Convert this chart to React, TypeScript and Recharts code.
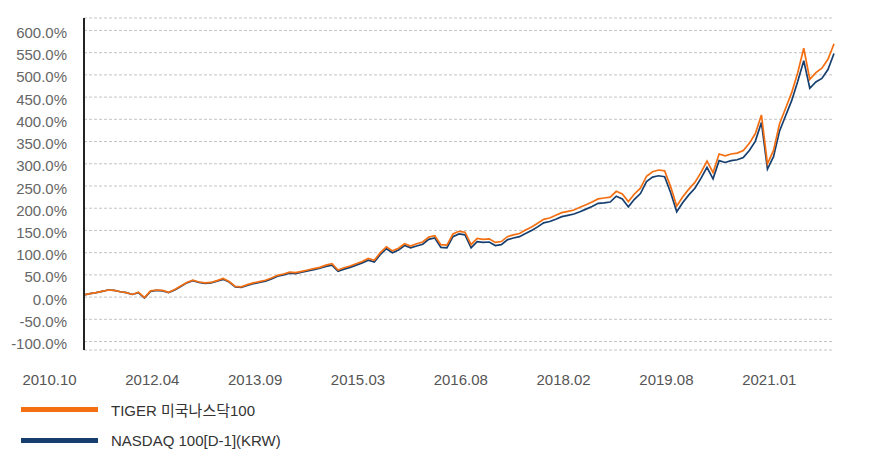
import { LineChart, Line, XAxis, YAxis, CartesianGrid } from 'recharts';

// monthly points, 2010.10 -> 2021.02 (cumulative return, %)
const tiger = [
  5, 8, 10, 13, 16, 15, 12, 10, 6, 11, -1, 14, 16, 15, 11, 17, 25, 33, 38, 34,
  32, 33, 37, 42, 35, 24, 23, 28, 32, 35, 38, 43, 49, 52, 56, 55, 58, 61, 64, 67,
  72, 75, 61, 66, 70, 75, 80, 87, 83, 100, 113, 104, 110, 120, 115, 120, 124, 135, 138, 118,
  117, 142, 148, 146, 118, 132, 130, 131, 123, 125, 136, 140, 143, 151, 158, 166, 175, 178, 184, 190,
  193, 196, 202, 208, 214, 221, 223, 225, 238, 232, 215, 232, 245, 272, 282, 286, 284, 248, 205, 226,
  243, 258, 280, 306, 280, 322, 318, 322, 324, 330, 346, 368, 410, 300, 330, 390, 425, 460, 505, 560,
  490, 505, 515, 535, 570,
];

const nasdaq = [
  5, 8, 10, 13, 16, 15, 12, 10, 6, 10, -2, 13, 15, 14, 10, 16, 24, 32, 37, 33,
  31, 32, 36, 40, 34, 23, 22, 26, 30, 33, 36, 41, 47, 50, 54, 53, 56, 59, 62, 65,
  69, 72, 58, 63, 67, 72, 77, 83, 79, 96, 109, 100, 106, 116, 111, 115, 119, 130, 133, 112,
  111, 136, 142, 140, 111, 125, 123, 124, 116, 118, 129, 133, 136, 143, 150, 158, 167, 170, 175, 181,
  184, 187, 192, 198, 204, 211, 212, 214, 227, 221, 203, 220, 233, 260, 270, 273, 271, 235, 192, 213,
  230, 245, 267, 292, 266, 307, 303, 307, 309, 314, 330, 351, 393, 288, 316, 374, 408, 442, 485, 532,
  470, 484, 492, 512, 548,
];

const xLabels = ['2010.10', '2012.04', '2013.09', '2015.03', '2016.08', '2018.02', '2019.08', '2021.01'];
const xTicks = [0, 17, 34, 51, 68, 85, 102, 119];
const yTicks = [-100, -50, 0, 50, 100, 150, 200, 250, 300, 350, 400, 450, 500, 550, 600];

const seriesNames = ['TIGER 미국나스닥100', 'NASDAQ 100[D-1](KRW)'];
const seriesColors = ['#f36f12', '#163f70'];

const data = tiger.map((v, i) => ({ i, tiger: v, nasdaq: nasdaq[i] }));

const font = "'Liberation Sans', Arial, 'Noto Sans CJK KR', sans-serif";

const XTick = (props: any) => {
  const { x, y, payload } = props;
  const idx = xTicks.indexOf(payload.value);
  return (
    <text x={x - 34.5} y={y + 33} textAnchor="middle" fill="#555" fontSize={15} fontFamily={font}>
      {xLabels[idx]}
    </text>
  );
};

const YTick = (props: any) => {
  const { x, y, payload } = props;
  return (
    <text x={x} y={y + 7.5} textAnchor="end" fill="#666" fontSize={15} fontFamily={font}>
      {`${payload.value.toFixed(1)}%`}
    </text>
  );
};

export default function App() {
  return (
    <div style={{ position: 'absolute', left: 0, top: 0, width: 880, height: 456, background: '#fff' }}>
      <LineChart width={880} height={456} data={data} margin={{ top: 18, right: 46, left: 0, bottom: 66 }}>
        <CartesianGrid vertical={false} stroke="#c4c4c4" strokeDasharray="3 2" />
        <XAxis
          dataKey="i"
          type="number"
          domain={[0, 124]}
          ticks={xTicks}
          interval={0}
          height={40}
          axisLine={false}
          tickLine={false}
          tickSize={0}
          tick={<XTick />}
        />
        <YAxis
          type="number"
          domain={[-119, 628]}
          ticks={yTicks}
          interval={0}
          width={84}
          axisLine={{ stroke: '#222', strokeWidth: 2 }}
          tickLine={false}
          tickSize={0}
          tickMargin={17}
          tick={<YTick />}
        />
        <Line dataKey="nasdaq" stroke={seriesColors[1]} strokeWidth={1.7} dot={false} isAnimationActive={false} />
        <Line dataKey="tiger" stroke={seriesColors[0]} strokeWidth={1.7} dot={false} isAnimationActive={false} />
      </LineChart>
      {seriesNames.map((name, k) => (
        <div
          key={name}
          style={{
            position: 'absolute',
            left: 21,
            top: 399 + k * 31.5,
            height: 20,
            display: 'flex',
            alignItems: 'center',
            fontFamily: font,
            fontSize: 15,
            color: '#333',
          }}
        >
          <span style={{ display: 'inline-block', width: 77, height: 5, background: seriesColors[k], marginRight: 13 }} />
          <span>{name}</span>
        </div>
      ))}
    </div>
  );
}
